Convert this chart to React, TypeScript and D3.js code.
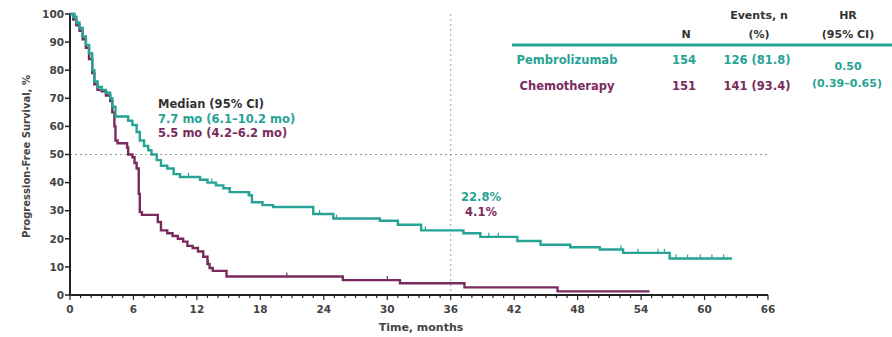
import React from "react";
import * as d3 from "d3";

const pembroSteps: [number, number][] = [
  [0, 100], [0.3, 99], [0.6, 97], [0.9, 95], [1.2, 92], [1.5, 89], [1.8, 86], [2.1, 80], [2.3, 76],
  [2.6, 74], [3.0, 73], [3.4, 72], [3.8, 70], [4.0, 67], [4.3, 63.5], [5.5, 62], [5.9, 60.5],
  [6.3, 58], [6.6, 55], [7.0, 53], [7.4, 51.5], [7.7, 50], [8.2, 48], [8.6, 46], [9.2, 45],
  [9.8, 43], [10.4, 42], [12.3, 41], [13.0, 40], [13.8, 39], [14.5, 38], [15.1, 36.6],
  [16.9, 35.5], [17.2, 33], [18.2, 32], [19.2, 31.3], [23.0, 28.8], [24.9, 27.2], [29.3, 26.4],
  [31.0, 25], [33.2, 23.0], [37.2, 22], [38.8, 20.7], [42.3, 19.2], [44.5, 17.9], [47.3, 17.0],
  [50.1, 16.2], [52.3, 15.0], [56.7, 13.0], [62.6, 13.0],
];

const chemoSteps: [number, number][] = [
  [0, 100], [0.3, 98], [0.6, 96], [0.9, 94], [1.2, 91], [1.5, 88], [1.8, 84], [2.1, 79], [2.3, 75],
  [2.6, 73], [3.0, 72.5], [3.4, 71], [3.8, 69], [4.0, 65], [4.2, 60], [4.3, 55], [4.5, 54],
  [5.4, 52.5], [5.5, 50], [5.9, 49], [6.1, 47], [6.3, 45], [6.5, 36], [6.6, 29.5], [6.8, 28.5],
  [8.3, 26], [8.6, 23], [9.2, 22], [9.7, 21], [10.2, 20], [10.7, 19], [11.1, 17.5], [11.6, 16.7],
  [12.1, 15.5], [12.6, 13.6], [13.0, 11], [13.2, 9.6], [13.5, 8.6], [14.8, 6.6], [25.8, 5.3],
  [31.2, 4.2], [37.3, 2.7], [46.1, 1.3], [54.8, 1.3],
];

const pembroCensor = [0.5, 11.2, 13.4, 17.0, 23.6, 25.2, 33.6, 39.6, 40.5, 52.1, 53.7, 55.6, 56.2, 57.3, 58.4, 59.6, 60.7, 61.8];
const chemoCensor = [13.1, 20.5, 30.0];

const xTicks = [0, 6, 12, 18, 24, 30, 36, 42, 48, 54, 60, 66];
const yTicks = [0, 10, 20, 30, 40, 50, 60, 70, 80, 90, 100];

const tableHeaders = ["N", "Events, n", "(%)", "HR", "(95% CI)"];
const armNames = ["Pembrolizumab", "Chemotherapy"];
const armN = ["154", "151"];
const armEvents = ["126 (81.8)", "141 (93.4)"];
const hrLines = ["0.50", "(0.39–0.65)"];
const medianLines = ["Median (95% CI)", "7.7 mo (6.1–10.2 mo)", "5.5 mo (4.2–6.2 mo)"];
const landmark = ["22.8%", "4.1%"];

const TEAL = "#26a395";
const PURPLE = "#7a2b5d";
const DARK = "#333333";
const FONT = "'DejaVu Sans', Verdana, sans-serif";

function stepAt(data: [number, number][], t: number) {
  let v = data[0][1];
  for (const [x, y] of data) {
    if (x <= t) v = y;
  }
  return v;
}

export default function App() {
  const W = 892, H = 337;
  const x = d3.scaleLinear().domain([0, 66]).range([70, 768]);
  const y = d3.scaleLinear().domain([0, 100]).range([295, 14]);
  const line = d3.line<[number, number]>().x(d => x(d[0])).y(d => y(d[1])).curve(d3.curveStepAfter);
  const minor = d3.range(0, 67, 1);

  return (
    <svg width={W} height={H} style={{ position: "absolute", left: 0, top: 0, background: "#fff" }} fontFamily={FONT}>
      {/* reference lines */}
      <line x1={x(0)} x2={x(66)} y1={y(50)} y2={y(50)} stroke="#999" strokeDasharray="2,3" strokeWidth={1} />
      <line x1={x(36)} x2={x(36)} y1={y(100)} y2={y(0)} stroke="#999" strokeDasharray="2,3" strokeWidth={1} />

      {/* axes */}
      <line x1={x(0)} x2={x(0)} y1={y(0)} y2={y(100) - 1} stroke="#222" strokeWidth={2} />
      <line x1={x(0)} x2={x(66)} y1={y(0)} y2={y(0)} stroke="#222" strokeWidth={2} />
      {yTicks.map(t => (
        <g key={"y" + t}>
          <line x1={x(0) - 5} x2={x(0)} y1={y(t)} y2={y(t)} stroke="#222" strokeWidth={1.5} />
          <text x={x(0) - 6} y={y(t)} dy="0.36em" textAnchor="end" fontSize={10.5} fontWeight="bold" fill="#444">{t}</text>
        </g>
      ))}
      {minor.map(t => (
        <line key={"m" + t} x1={x(t)} x2={x(t)} y1={y(0)} y2={y(0) + (t % 6 === 0 ? 5 : 3)} stroke="#222" strokeWidth={1.2} />
      ))}
      {xTicks.map(t => (
        <text key={"x" + t} x={x(t)} y={y(0) + 18} textAnchor="middle" fontSize={10.5} fontWeight="bold" fill="#444">{t}</text>
      ))}
      <text x={421} y={331} textAnchor="middle" fontSize={11} fontWeight="bold" fill="#444">Time, months</text>
      <text transform={`translate(30,${y(50) + 2}) rotate(-90)`} textAnchor="middle" fontSize={10} fontWeight="bold" fill="#444">Progression-Free Survival, %</text>

      {/* curves */}
      <path d={line(chemoSteps) || ""} fill="none" stroke={PURPLE} strokeWidth={2.4} />
      <path d={line(pembroSteps) || ""} fill="none" stroke={TEAL} strokeWidth={2.4} />
      {pembroCensor.map((t, i) => (
        <line key={"pc" + i} x1={x(t)} x2={x(t)} y1={y(stepAt(pembroSteps, t))} y2={y(stepAt(pembroSteps, t)) - 4} stroke={TEAL} strokeWidth={1.2} />
      ))}
      {chemoCensor.map((t, i) => (
        <line key={"cc" + i} x1={x(t)} x2={x(t)} y1={y(stepAt(chemoSteps, t))} y2={y(stepAt(chemoSteps, t)) - 4} stroke={PURPLE} strokeWidth={1.2} />
      ))}

      {/* median annotation */}
      <g fontSize={11.5} fontWeight="bold">
        <text x={158} y={108} fill={DARK}>{medianLines[0]}</text>
        <text x={158} y={123} fill={TEAL}>{medianLines[1]}</text>
        <text x={158} y={137} fill={PURPLE}>{medianLines[2]}</text>
      </g>

      {/* landmark */}
      <g fontSize={11.5} fontWeight="bold" textAnchor="middle">
        <text x={481} y={201} fill={TEAL}>{landmark[0]}</text>
        <text x={481} y={216} fill={PURPLE}>{landmark[1]}</text>
      </g>

      {/* table */}
      <g fontSize={11} fontWeight="bold" textAnchor="middle">
        <text x={686} y={38} fill={DARK}>{tableHeaders[0]}</text>
        <text x={759} y={19} fill={DARK}>{tableHeaders[1]}</text>
        <text x={759} y={38} fill={DARK}>{tableHeaders[2]}</text>
        <text x={848} y={19} fill={DARK}>{tableHeaders[3]}</text>
        <text x={848} y={38} fill={DARK}>{tableHeaders[4]}</text>
        <line x1={512} x2={892} y1={45} y2={45} stroke={TEAL} strokeWidth={3} />
        {armNames.map((n, i) => {
          const c = i === 0 ? TEAL : PURPLE;
          const yy = 64 + i * 26;
          return (
            <g key={n}>
              <text x={567} y={yy} fill={c} fontSize={11.5}>{n}</text>
              <text x={684} y={yy} fill={c} fontSize={11.5}>{armN[i]}</text>
              <text x={757} y={yy} fill={c} fontSize={11.5}>{armEvents[i]}</text>
            </g>
          );
        })}
        <text x={848} y={70} fill={TEAL} fontSize={11}>{hrLines[0]}</text>
        <text x={847} y={87} fill={TEAL} fontSize={11}>{hrLines[1]}</text>
      </g>
    </svg>
  );
}
